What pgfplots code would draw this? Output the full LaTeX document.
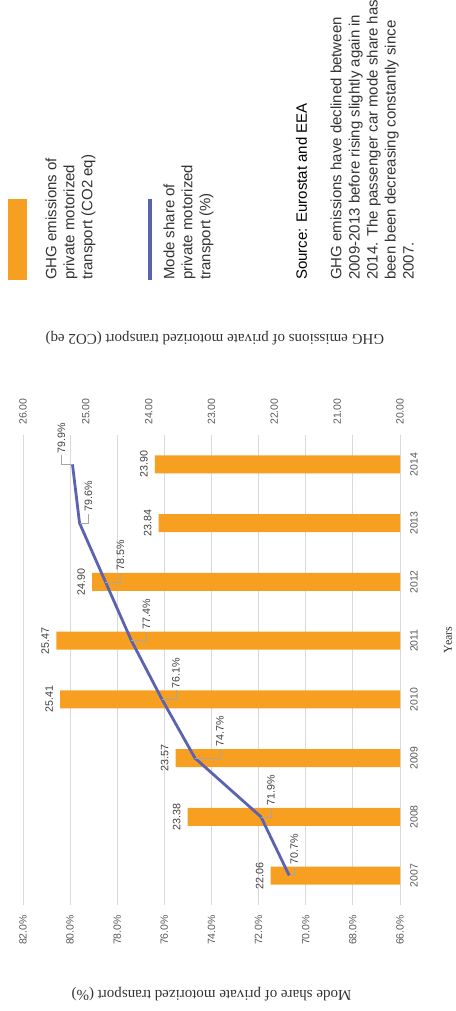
\documentclass[border=0pt]{standalone}
\usepackage{fontspec}
\setmainfont{Liberation Sans}
\newfontfamily\titlefont{Liberation Serif}
\usepackage{pgfplots}
\pgfplotsset{compat=1.18}
\usepackage{pgfplotstable}

\definecolor{barc}{RGB}{247,159,33}
\definecolor{linec}{RGB}{91,98,176}
\definecolor{gridc}{RGB}{217,217,217}
\definecolor{tickc}{RGB}{89,89,89}
\definecolor{labc}{RGB}{64,64,64}
\definecolor{titc}{RGB}{51,51,51}
\definecolor{txtc}{RGB}{51,51,51}
\definecolor{leadc}{RGB}{166,166,166}

\pgfplotstableread{
x ghg lab
0 22.06 22.06
1 23.38 23.38
2 23.57 23.57
3 25.41 25.41
4 25.47 25.47
5 24.90 24.90
6 23.84 23.84
7 23.90 23.90
}\ghgdata

\pgfplotstableread{
x share off
0 70.7 -5
1 71.9 -10
2 74.7 -25
3 76.1 -14
4 77.4 -15
5 78.5 -15
6 79.6 -9
7 79.9 11
}\sharedata

\pgfdeclareplotmark{leader}{%
  \pgfpathmoveto{\pgfqpoint{0pt}{0pt}}%
  \pgfpathlineto{\pgfpoint{0pt}{\labdy pt}}%
  \pgfpathlineto{\pgfpoint{9pt}{\labdy pt}}%
  \pgfusepathqstroke}

\pgfplotsset{base/.style={
  at={(106pt,55pt)}, anchor=south west, scale only axis,
  width=470pt, height=377pt, xmin=-0.5, xmax=7.5,
  axis line style={draw=none}, major tick length=0pt,
  tick label style={font=\fontsize{10.5}{12}\selectfont, text=tickc, inner sep=0pt}}}

\begin{document}
\begin{tikzpicture}[rotate=90, transform shape]
\useasboundingbox (0pt,0pt) rectangle (1011pt,455pt);

% axis A: grid, left ticks, years
\begin{axis}[base, ymin=66, ymax=82,
  xtick={0,1,2,3,4,5,6,7},
  xticklabels={2007,2008,2009,2010,2011,2012,2013,2014},
  ytick={66,68,70,72,74,76,78,80,82},
  yticklabels={66.0\%,68.0\%,70.0\%,72.0\%,74.0\%,76.0\%,78.0\%,80.0\%,82.0\%},
  ymajorgrids, grid style={gridc, line width=0.8pt},
  xticklabel shift=10pt, yticklabel shift=10pt,
  ylabel={Mode share of private motorized transport (\%)},
  xlabel={Years},
  every axis y label/.style={at={(axis description cs:-0.1894,0.5)}, rotate=90, anchor=center,
    font=\titlefont\fontsize{15}{18}\selectfont, text=titc},
  every axis x label/.style={at={(axis description cs:0.5638,-0.127)}, anchor=center,
    font=\titlefont\fontsize{12}{14}\selectfont, text=titc}]
\addplot[draw=none] coordinates {(0,66)};
\end{axis}

% axis B: bars, right scale
\begin{axis}[base, ymin=20, ymax=26, axis y line*=right, axis x line=none,
  ytick={20,21,22,23,24,25,26},
  yticklabels={20.00,21.00,22.00,23.00,24.00,25.00,26.00},
  yticklabel shift=10pt,
  ylabel={GHG emissions of private motorized transport (CO2 eq)},
  every axis y label/.style={at={(axis description cs:1.2064,0.491)}, rotate=90, anchor=center,
    font=\titlefont\fontsize{15}{18}\selectfont, text=titc}]
\addplot[ybar, bar width=18pt, fill=barc, draw=none,
  point meta=explicit symbolic, nodes near coords,
  every node near coord/.append style={font=\fontsize{10.7}{12}\selectfont, text=labc,
    inner sep=0pt, anchor=south, yshift=7pt}]
  table[x=x, y=ghg, meta=lab] {\ghgdata};
\end{axis}

% axis C: line, left scale
\begin{axis}[base, ymin=66, ymax=82, axis x line=none, axis y line=none, ticks=none]
\addplot[linec, line width=2.8pt, line join=round, mark=none] table[x=x, y=share] {\sharedata};
\addplot[only marks, mark=leader, draw=leadc, line width=0.7pt,
  mark options={draw=leadc, line width=0.7pt},
  visualization depends on={\thisrow{off} \as \labdy},
  point meta=y,
  nodes near coords={\pgfmathprintnumber[fixed,fixed zerofill,precision=1,assume math mode=true]{\pgfplotspointmeta}\%},
  every node near coord/.append style={anchor=west, font=\fontsize{10.7}{12}\selectfont,
    text=labc, inner sep=1pt, xshift=10pt, yshift=\labdy pt}]
  table[x=x, y=share] {\sharedata};
\end{axis}

% legend and notes
\fill[barc] (731pt,428pt) rectangle (812pt,447pt);
\draw[linec, line width=4pt] (731pt,305pt) -- (812pt,305pt);
\begin{scope}[every node/.style={anchor=base west, inner sep=0pt,
    font=\fontsize{15}{18}\selectfont, text=txtc}]
\node at (731pt,398.5pt) {GHG emissions of};
\node at (731pt,380.5pt) {private motorized};
\node at (731pt,362.5pt) {transport (CO2 eq)};
\node at (731pt,280.5pt) {Mode share of};
\node at (731pt,262.5pt) {private motorized};
\node at (731pt,244.5pt) {transport (\%)};
\node[text=black] at (731pt,148pt) {Source: Eurostat and EEA};
\node at (731pt,113.5pt) {GHG emissions have declined between};
\node at (731pt,95.5pt) {2009-2013 before rising slightly again in};
\node at (731pt,77.5pt) {2014. The passenger car mode share has};
\node at (731pt,59.5pt) {been been decreasing constantly since};
\node at (731pt,41.5pt) {2007.};
\end{scope}
\end{tikzpicture}
\end{document}
